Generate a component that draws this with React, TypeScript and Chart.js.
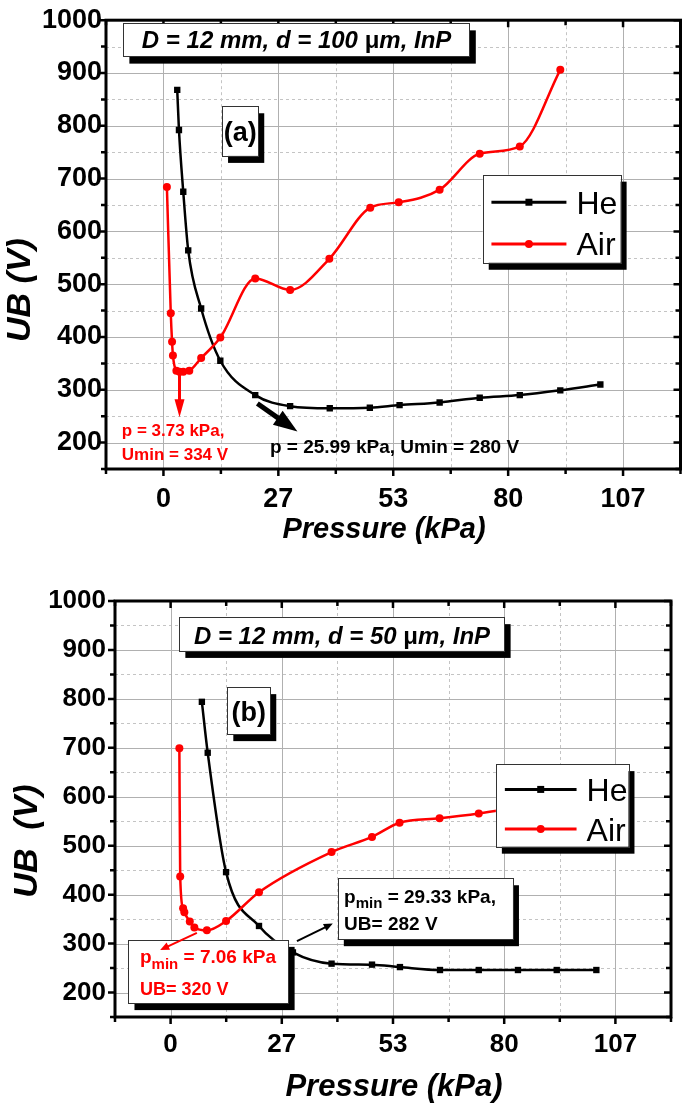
import React, { useEffect, useRef } from 'react';
import { Chart, registerables } from 'chart.js';

Chart.register(...registerables);

const FONT = '"Liberation Sans", Arial, Helvetica, sans-serif';

// Axis definition (kPa / V)
const X_MIN = -13.333;
const X_MAX = 120;
const Y_MIN = 150;
const Y_MAX = 1000;
const X_MAJOR = [0, 26.667, 53.333, 80, 106.667];
const X_MINOR = [-13.333, 13.333, 40, 66.667, 93.333, 120];
const Y_MAJOR = [200, 300, 400, 500, 600, 700, 800, 900, 1000];
const Y_MINOR = [150, 250, 350, 450, 550, 650, 750, 850, 950];

const SERIES = ['He', 'Air'];
const SERIES_COLORS = ['#000000', '#ff0000'];
const X_TITLE = 'Pressure (kPa)';

// Panel (a): D = 12 mm, d = 100 um
const A_HE_P = [3.2, 3.6, 4.6, 5.75, 8.75, 13.2, 21.3, 29.4, 38.6, 47.9, 54.8, 64.1, 73.4, 82.7, 92.1, 101.4];
const A_HE_U = [868, 792, 675, 564, 454, 355, 290, 269, 265, 266, 271, 276, 285, 290, 299, 310];
const A_AIR_P = [0.8, 1.7, 2.0, 2.2, 3.0, 3.73, 4.6, 6.0, 8.75, 13.2, 21.3, 29.4, 38.5, 48.0, 54.6, 64.1, 73.4, 82.7, 92.1];
const A_AIR_U = [684, 445, 391, 365, 336, 334, 334, 336, 360, 399, 511, 489, 548, 645, 655, 679, 747, 761, 906];

// Panel (b): D = 12 mm, d = 50 um
const B_HE_P = [7.5, 8.9, 13.3, 21.2, 29.33, 38.6, 48.3, 55.0, 64.6, 73.9, 83.3, 92.6, 102.1];
const B_HE_U = [794, 690, 446, 336, 282, 259, 257, 252, 246, 246, 246, 246, 246];
const B_AIR_P = [2.1, 2.3, 3.0, 3.3, 4.6, 5.7, 8.7, 13.3, 21.2, 38.6, 48.3, 54.9, 64.5, 73.9, 83.3];
const B_AIR_U = [699, 437, 372, 364, 345, 333, 327, 346, 405, 487, 518, 547, 556, 566, 578];

type Seg = { t: string; size: number; bold?: boolean; italic?: boolean; dy?: number };
type TLine = { segs: Seg[]; dx?: number; dy: number; align?: 'left' | 'center'; color: string };
type Box = { x1: number; y1: number; x2: number; y2: number; lines: TLine[] };
type Arrow = { x1: number; y1: number; x2: number; y2: number; color: string; width: number; headLen: number; headW: number };
type FText = { x: number; y: number; segs: Seg[]; color: string };
type Legend = { x1: number; y1: number; x2: number; y2: number; rowY: number[]; lineX1: number; lineX2: number; textX: number; size: number };

type PanelCfg = {
  top: number;
  h: number;
  heP: number[];
  heU: number[];
  airP: number[];
  airU: number[];
  padTop: number;
  padRight: number;
  yAxisW: number;
  xAxisH: number;
  tickSize: number;
  xLabelPad: number;
  yLabelPad: number;
  xTitle: { x: number; y: number; size: number };
  yTitle: { text: string; x: number; y: number; size: number };
  boxes: Box[];
  arrows: Arrow[];
  texts: FText[];
  legend: Legend;
};

const fontOf = (s: Seg) => `${s.italic ? 'italic ' : ''}${s.bold === false ? 'normal' : 'bold'} ${s.size}px ${FONT}`;

function drawSegs(ctx: CanvasRenderingContext2D, segs: Seg[], x: number, y: number, align: string, color: string) {
  let total = 0;
  for (const s of segs) {
    ctx.font = fontOf(s);
    total += ctx.measureText(s.t).width;
  }
  let cx = align === 'center' ? x - total / 2 : x;
  ctx.textAlign = 'left';
  ctx.textBaseline = 'alphabetic';
  ctx.fillStyle = color;
  for (const s of segs) {
    ctx.font = fontOf(s);
    ctx.fillText(s.t, cx, y + (s.dy || 0));
    cx += ctx.measureText(s.t).width;
  }
}

function drawArrow(ctx: CanvasRenderingContext2D, ax: number, ay: number, bx: number, by: number, a: Arrow) {
  const dx = bx - ax;
  const dy = by - ay;
  const len = Math.hypot(dx, dy);
  const ux = dx / len;
  const uy = dy / len;
  const hx = bx - ux * a.headLen;
  const hy = by - uy * a.headLen;
  ctx.strokeStyle = a.color;
  ctx.fillStyle = a.color;
  ctx.lineWidth = a.width;
  ctx.lineCap = 'butt';
  ctx.beginPath();
  ctx.moveTo(ax, ay);
  ctx.lineTo(hx + ux * 1, hy + uy * 1);
  ctx.stroke();
  ctx.beginPath();
  ctx.moveTo(bx, by);
  ctx.lineTo(hx - uy * a.headW / 2, hy + ux * a.headW / 2);
  ctx.lineTo(hx + uy * a.headW / 2, hy - ux * a.headW / 2);
  ctx.closePath();
  ctx.fill();
}

function shadowBox(ctx: CanvasRenderingContext2D, l: number, t: number, r: number, b: number) {
  ctx.fillStyle = '#000';
  ctx.fillRect(l + 6, t + 7, r - l, b - t);
  ctx.fillStyle = '#fff';
  ctx.fillRect(l, t, r - l, b - t);
  ctx.strokeStyle = '#333';
  ctx.lineWidth = 1;
  ctx.strokeRect(Math.round(l) + 0.5, Math.round(t) + 0.5, Math.round(r - l), Math.round(b - t));
}

function makeDecor(cfg: PanelCfg) {
  return {
    id: 'decor',
    beforeDatasetsDraw(chart: any) {
      const { ctx, chartArea } = chart;
      const { left, right, top, bottom } = chartArea;
      const xs = chart.scales.x;
      const ys = chart.scales.y;
      ctx.save();
      ctx.lineWidth = 1;
      ctx.strokeStyle = '#c4c4c4';
      ctx.setLineDash([3, 3]);
      ctx.beginPath();
      for (const v of X_MINOR) {
        const p = Math.round(xs.getPixelForValue(v)) + 0.5;
        if (p > left + 2 && p < right - 2) {
          ctx.moveTo(p, top);
          ctx.lineTo(p, bottom);
        }
      }
      for (const v of Y_MINOR) {
        const p = Math.round(ys.getPixelForValue(v)) + 0.5;
        if (p > top + 2 && p < bottom - 2) {
          ctx.moveTo(left, p);
          ctx.lineTo(right, p);
        }
      }
      ctx.stroke();
      ctx.setLineDash([]);
      ctx.strokeStyle = '#b0b0b0';
      ctx.beginPath();
      for (const v of X_MAJOR) {
        const p = Math.round(xs.getPixelForValue(v)) + 0.5;
        if (p > left + 2 && p < right - 2) {
          ctx.moveTo(p, top);
          ctx.lineTo(p, bottom);
        }
      }
      for (const v of Y_MAJOR) {
        const p = Math.round(ys.getPixelForValue(v)) + 0.5;
        if (p > top + 2 && p < bottom - 2) {
          ctx.moveTo(left, p);
          ctx.lineTo(right, p);
        }
      }
      ctx.stroke();
      ctx.restore();
    },
    afterDatasetsDraw(chart: any) {
      const { ctx, chartArea } = chart;
      const { left, right, top, bottom } = chartArea;
      const xs = chart.scales.x;
      const ys = chart.scales.y;
      const X = (v: number) => xs.getPixelForValue(v);
      const Y = (v: number) => ys.getPixelForValue(v);
      ctx.save();
      // frame
      ctx.strokeStyle = '#000';
      ctx.lineWidth = 3;
      ctx.strokeRect(left, top, right - left, bottom - top);
      // ticks
      ctx.lineWidth = 2.5;
      ctx.beginPath();
      const tick = (vals: number[], len: number) => {
        for (const v of vals) {
          const p = X(v);
          ctx.moveTo(p, bottom);
          ctx.lineTo(p, bottom + len);
          ctx.moveTo(p, top);
          ctx.lineTo(p, top + len);
        }
      };
      const tickY = (vals: number[], len: number) => {
        for (const v of vals) {
          const p = Y(v);
          ctx.moveTo(left, p);
          ctx.lineTo(left - len, p);
          ctx.moveTo(right, p);
          ctx.lineTo(right - len, p);
        }
      };
      tick(X_MAJOR, 7);
      tick(X_MINOR, 5);
      tickY(Y_MAJOR, 7);
      tickY(Y_MINOR, 5);
      ctx.stroke();

      // boxes
      for (const b of cfg.boxes) {
        const l = X(b.x1);
        const t = Y(b.y1);
        const r = X(b.x2);
        const bt = Y(b.y2);
        shadowBox(ctx, l, t, r, bt);
        for (const ln of b.lines) {
          const tx = ln.align === 'center' ? (l + r) / 2 : l + (ln.dx || 0);
          drawSegs(ctx, ln.segs, tx, t + ln.dy, ln.align || 'left', ln.color);
        }
      }
      // arrows
      for (const a of cfg.arrows) {
        drawArrow(ctx, X(a.x1), Y(a.y1), X(a.x2), Y(a.y2), a);
      }
      // free texts
      for (const ft of cfg.texts) {
        drawSegs(ctx, ft.segs, X(ft.x), Y(ft.y), 'left', ft.color);
      }
      // legend
      const lg = cfg.legend;
      const ll = X(lg.x1);
      const lt = Y(lg.y1);
      shadowBox(ctx, ll, lt, X(lg.x2), Y(lg.y2));
      SERIES.forEach((name, i) => {
        const ry = lt + lg.rowY[i];
        ctx.strokeStyle = SERIES_COLORS[i];
        ctx.fillStyle = SERIES_COLORS[i];
        ctx.lineWidth = 3;
        ctx.beginPath();
        ctx.moveTo(ll + lg.lineX1, ry);
        ctx.lineTo(ll + lg.lineX2, ry);
        ctx.stroke();
        const mx = ll + (lg.lineX1 + lg.lineX2) / 2;
        ctx.beginPath();
        if (i === 0) {
          ctx.rect(mx - 3.5, ry - 3.5, 7, 7);
        } else {
          ctx.arc(mx, ry, 4, 0, Math.PI * 2);
        }
        ctx.fill();
        ctx.font = `normal ${lg.size}px ${FONT}`;
        ctx.fillStyle = '#000';
        ctx.textAlign = 'left';
        ctx.textBaseline = 'alphabetic';
        ctx.fillText(name, ll + lg.textX, ry + lg.size * 0.358);
      });

      // axis titles
      ctx.fillStyle = '#000';
      ctx.font = `italic bold ${cfg.xTitle.size}px ${FONT}`;
      ctx.textAlign = 'center';
      ctx.textBaseline = 'alphabetic';
      ctx.fillText(X_TITLE, cfg.xTitle.x, cfg.xTitle.y);
      ctx.save();
      ctx.translate(cfg.yTitle.x, cfg.yTitle.y);
      ctx.rotate(-Math.PI / 2);
      ctx.font = `italic bold ${cfg.yTitle.size}px ${FONT}`;
      ctx.textAlign = 'center';
      ctx.textBaseline = 'middle';
      ctx.fillText(cfg.yTitle.text, 0, 0);
      ctx.restore();
      ctx.restore();
    },
  };
}

const toPts = (px: number[], py: number[]) => px.map((x, i) => ({ x, y: py[i] }));

function Panel({ cfg }: { cfg: PanelCfg }) {
  const ref = useRef<HTMLCanvasElement | null>(null);
  useEffect(() => {
    if (!ref.current) return;
    const tickFont = { family: FONT, size: cfg.tickSize, weight: 'bold' as const };
    const chart = new Chart(ref.current, {
      type: 'line',
      data: {
        datasets: [
          {
            label: SERIES[0],
            data: toPts(cfg.heP, cfg.heU),
            borderColor: SERIES_COLORS[0],
            backgroundColor: SERIES_COLORS[0],
            borderWidth: 2.5,
            pointStyle: 'rect',
            pointRadius: 4.5,
            pointBorderWidth: 0,
            cubicInterpolationMode: 'monotone',
            order: 1,
          },
          {
            label: SERIES[1],
            data: toPts(cfg.airP, cfg.airU),
            borderColor: SERIES_COLORS[1],
            backgroundColor: SERIES_COLORS[1],
            borderWidth: 2.5,
            pointStyle: 'circle',
            pointRadius: 4,
            pointBorderWidth: 0,
            cubicInterpolationMode: 'monotone',
            order: 0,
          },
        ],
      },
      options: {
        animation: false,
        responsive: false,
        maintainAspectRatio: false,
        layout: { padding: { top: cfg.padTop, right: cfg.padRight, left: 0, bottom: 0 } },
        plugins: { legend: { display: false }, tooltip: { enabled: false } },
        scales: {
          x: {
            type: 'linear',
            min: X_MIN,
            max: X_MAX,
            grid: { display: false, drawTicks: false },
            border: { display: false },
            afterBuildTicks: (s: any) => {
              s.ticks = X_MAJOR.map((v) => ({ value: v }));
            },
            afterFit: (s: any) => {
              s.height = cfg.xAxisH;
            },
            ticks: {
              color: '#000',
              font: tickFont,
              padding: cfg.xLabelPad,
              maxRotation: 0,
              autoSkip: false,
              callback: (v: any) => String(Math.round(Number(v))),
            },
          },
          y: {
            type: 'linear',
            min: Y_MIN,
            max: Y_MAX,
            grid: { display: false, drawTicks: false },
            border: { display: false },
            afterBuildTicks: (s: any) => {
              s.ticks = Y_MAJOR.map((v) => ({ value: v }));
            },
            afterFit: (s: any) => {
              s.width = cfg.yAxisW;
            },
            ticks: {
              color: '#000',
              font: tickFont,
              padding: cfg.yLabelPad,
              autoSkip: false,
              callback: (v: any) => String(Math.round(Number(v))),
            },
          },
        },
      },
      plugins: [makeDecor(cfg)],
    } as any);
    return () => chart.destroy();
  }, [cfg]);
  return (
    <canvas
      ref={ref}
      width={685}
      height={cfg.h}
      style={{ position: 'absolute', left: 0, top: cfg.top, width: 685, height: cfg.h, display: 'block' }}
    />
  );
}

const b24 = (t: string, extra: Partial<Seg> = {}): Seg => ({ t, size: 24, bold: true, italic: true, ...extra });

const PANEL_A: PanelCfg = {
  top: 0,
  h: 555,
  heP: A_HE_P,
  heU: A_HE_U,
  airP: A_AIR_P,
  airU: A_AIR_U,
  padTop: 16,
  padRight: 2,
  yAxisW: 106,
  xAxisH: 86,
  tickSize: 27,
  xLabelPad: 14,
  yLabelPad: 4,
  xTitle: { x: 384, y: 538, size: 29 },
  yTitle: { text: 'UB (V)', x: 21, y: 290, size: 34 },
  boxes: [
    {
      x1: -9.3, y1: 994, x2: 71.1, y2: 931,
      lines: [{ segs: [b24('D = 12 mm, d = 100 '), b24('\u03bc', { italic: false }), b24('m, InP')], dy: 25, align: 'center', color: '#000' }],
    },
    {
      x1: 13.6, y1: 837, x2: 22.0, y2: 743,
      lines: [{ segs: [{ t: '(a)', size: 27, bold: true }], dy: 35, align: 'center', color: '#000' }],
    },
  ],
  arrows: [
    { x1: 3.73, y1: 331, x2: 3.73, y2: 248, color: '#ff0000', width: 3, headLen: 18, headW: 10 },
    { x1: 21.8, y1: 274, x2: 31.1, y2: 221, color: '#000000', width: 5, headLen: 24, headW: 17 },
  ],
  texts: [
    { x: -9.66, y: 212, segs: [{ t: 'p = 3.73 kPa,', size: 17, bold: true }], color: '#ff0000' },
    { x: -9.66, y: 167, segs: [{ t: 'Umin = 334 V', size: 17, bold: true }], color: '#ff0000' },
    { x: 24.7, y: 179.5, segs: [{ t: 'p = 25.99 kPa, Umin = 280 V', size: 19, bold: true }], color: '#000000' },
  ],
  legend: { x1: 74.1, y1: 707.5, x2: 106.1, y2: 540.6, rowY: [27.6, 69.3], lineX1: 8.7, lineX2: 83.7, textX: 93.7, size: 32 },
};

const PANEL_B: PanelCfg = {
  top: 555,
  h: 554,
  heP: B_HE_P,
  heU: B_HE_U,
  airP: B_AIR_P,
  airU: B_AIR_U,
  padTop: 46,
  padRight: 14,
  yAxisW: 115,
  xAxisH: 92,
  tickSize: 26,
  xLabelPad: 12,
  yLabelPad: 9,
  xTitle: { x: 394, y: 541, size: 31 },
  yTitle: { text: 'UB  (V)', x: 28, y: 286, size: 34 },
  boxes: [
    {
      x1: 2.1, y1: 967, x2: 80.1, y2: 898,
      lines: [{ segs: [b24('D = 12 mm, d = 50 '), b24('\u03bc', { italic: false }), b24('m, InP')], dy: 26.5, align: 'center', color: '#000' }],
    },
    {
      x1: 13.6, y1: 824, x2: 23.9, y2: 728,
      lines: [{ segs: [{ t: '(b)', size: 27, bold: true }], dy: 34, align: 'center', color: '#000' }],
    },
    {
      x1: 40.1, y1: 433.5, x2: 82.1, y2: 309,
      lines: [
        { segs: [{ t: 'p', size: 19, bold: true }, { t: 'min', size: 15, bold: true, dy: 5 }, { t: ' = 29.33 kPa,', size: 19, bold: true }], dx: 6.3, dy: 25, color: '#000' },
        { segs: [{ t: 'UB= 282 V', size: 19, bold: true }], dx: 6.3, dy: 51.7, color: '#000' },
      ],
    },
    {
      x1: -10.1, y1: 307.6, x2: 28.3, y2: 178.4,
      lines: [
        { segs: [{ t: 'p', size: 19, bold: true }, { t: 'min', size: 15, bold: true, dy: 6 }, { t: ' = 7.06 kPa', size: 19, bold: true }], dx: 11.5, dy: 23.3, color: '#ff0000' },
        { segs: [{ t: 'UB= 320 V', size: 18, bold: true }], dx: 11.5, dy: 55, color: '#ff0000' },
      ],
    },
  ],
  arrows: [
    { x1: 6.3, y1: 322, x2: -2.5, y2: 287, color: '#ff0000', width: 2, headLen: 9, headW: 8 },
    { x1: 30.3, y1: 305, x2: 38.9, y2: 341, color: '#000000', width: 2, headLen: 9, headW: 8 },
  ],
  texts: [],
  legend: { x1: 78.0, y1: 666.7, x2: 109.8, y2: 498, rowY: [25.3, 65], lineX1: 9, lineX2: 80.7, textX: 90.7, size: 32 },
};

export default function App() {
  return (
    <div style={{ position: 'absolute', left: 0, top: 0, width: 685, height: 1109, background: '#fff', overflow: 'hidden' }}>
      <Panel cfg={PANEL_A} />
      <Panel cfg={PANEL_B} />
    </div>
  );
}
